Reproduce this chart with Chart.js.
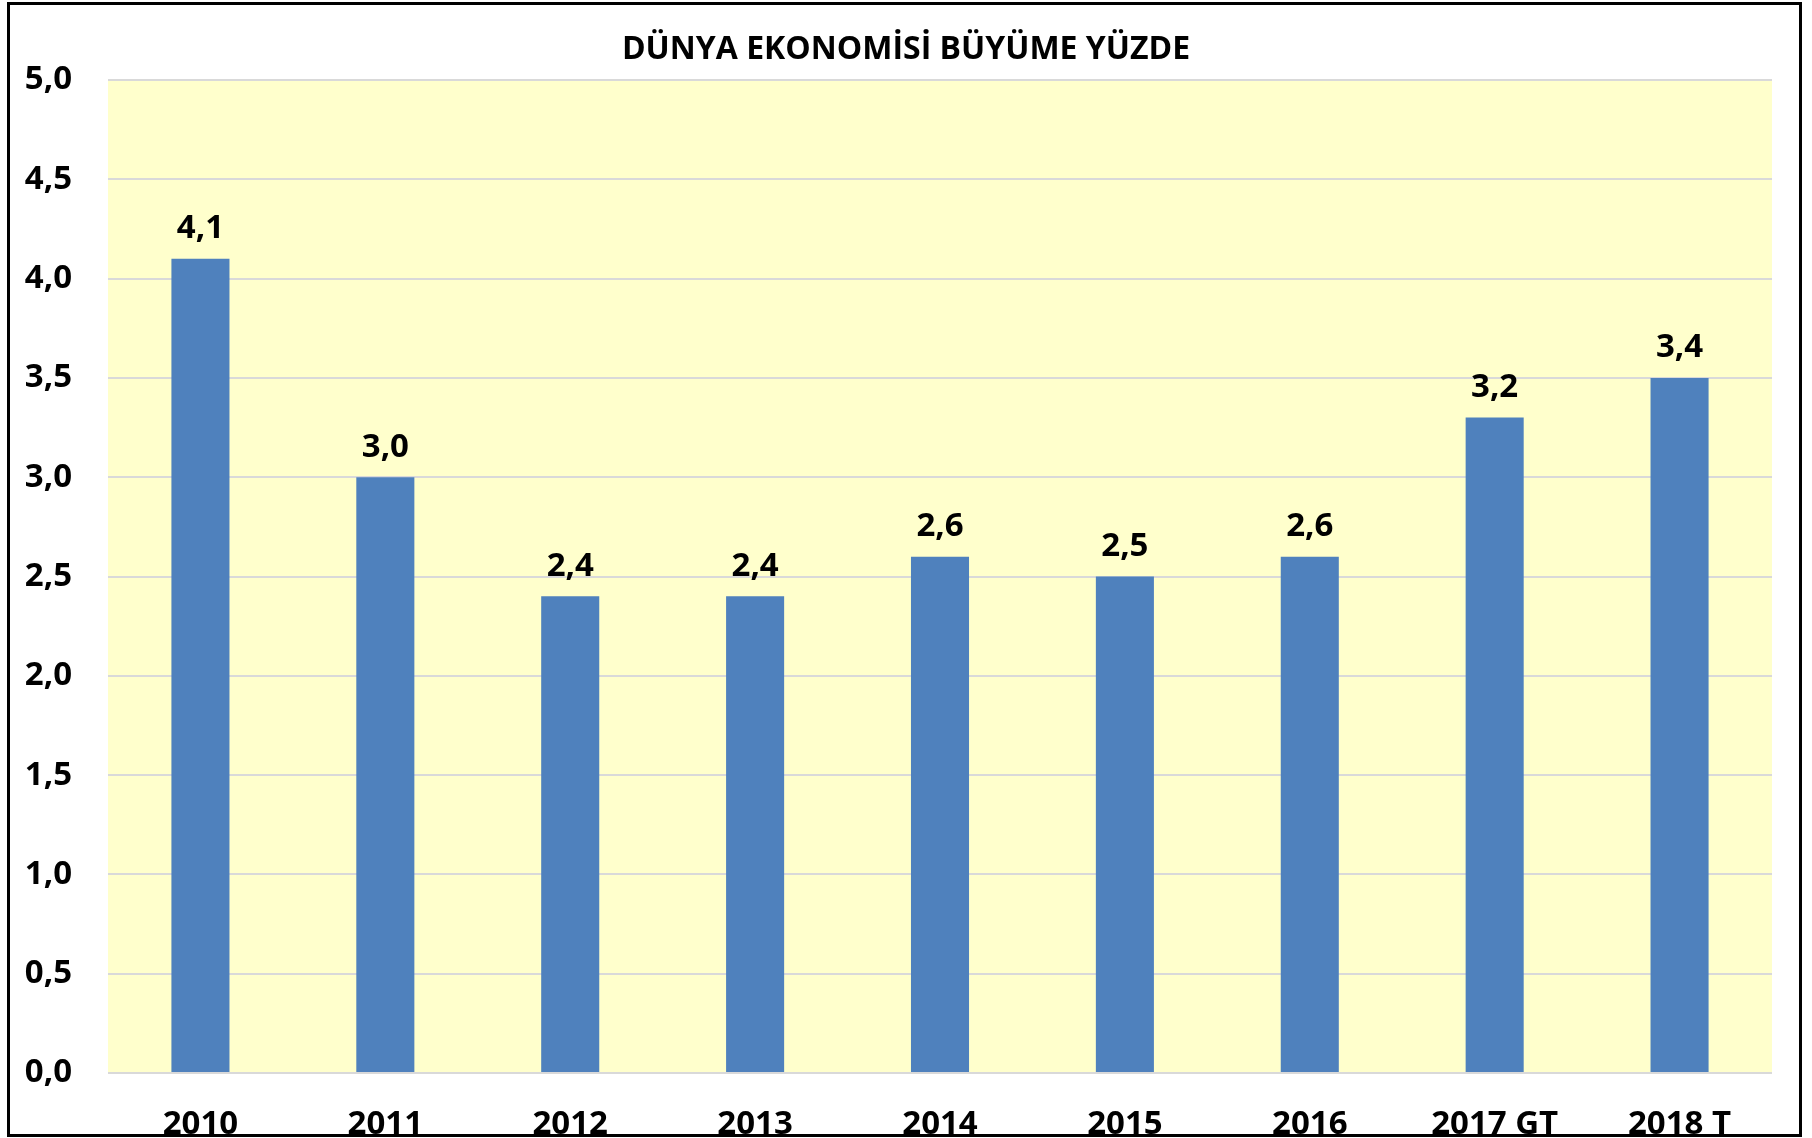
<!DOCTYPE html>
<html>
<head>
<meta charset="utf-8">
<script src="https://cdn.jsdelivr.net/npm/chart.js@4/dist/chart.umd.min.js"></script>
<style>
  html, body { margin: 0; padding: 0; background: #fff; }
  #wrap { position: relative; width: 1812px; height: 1138px; }
  canvas { display: block; }
</style>
</head>
<body>
<div id="wrap"><canvas id="c" width="1812" height="1138"></canvas></div>
<script>
const categories = ['2010', '2011', '2012', '2013', '2014', '2015', '2016', '2017 GT', '2018 T'];
const barValues = [4.1, 3.0, 2.4, 2.4, 2.6, 2.5, 2.6, 3.3, 3.5];
const labelValues = [4.1, 3.0, 2.4, 2.4, 2.6, 2.5, 2.6, 3.2, 3.4];
const titleText = 'DÜNYA EKONOMİSİ BÜYÜME YÜZDE';

const FONT = "'Open Sans', 'DejaVu Sans', sans-serif";
const fmt = v => Number(v).toFixed(1).replace('.', ',');

const plotBg = {
  id: 'plotBg',
  beforeDraw(chart) {
    const { ctx, chartArea: a } = chart;
    ctx.save();
    ctx.fillStyle = '#FFFFCC';
    ctx.fillRect(a.left, a.top, a.right - a.left, a.bottom - a.top);
    ctx.restore();
  }
};

const valueLabels = {
  id: 'valueLabels',
  afterDatasetsDraw(chart) {
    const { ctx } = chart;
    const meta = chart.getDatasetMeta(0);
    ctx.save();
    ctx.fillStyle = '#000';
    ctx.font = 'bold 33px ' + FONT;
    ctx.textAlign = 'center';
    ctx.textBaseline = 'middle';
    meta.data.forEach((bar, i) => {
      ctx.fillText(fmt(labelValues[i]), bar.x, bar.y - 30);
    });
    ctx.restore();
  }
};

const frame = {
  id: 'frame',
  afterDraw(chart) {
    const { ctx } = chart;
    ctx.save();
    ctx.strokeStyle = '#000';
    ctx.lineWidth = 3;
    ctx.strokeRect(8.5, 3.5, 1792, 1132);
    ctx.restore();
  }
};

new Chart(document.getElementById('c'), {
  type: 'bar',
  data: {
    labels: categories,
    datasets: [{
      data: barValues,
      backgroundColor: '#4F81BD',
      borderWidth: 0,
      barPercentage: 0.314,
      categoryPercentage: 1.0
    }]
  },
  options: {
    responsive: false,
    animation: false,
    layout: { padding: 0 },
    plugins: {
      legend: { display: false },
      tooltip: { enabled: false },
      title: {
        display: true,
        text: titleText,
        color: '#000',
        font: { family: FONT, size: 32, weight: 'bold', lineHeight: 1.2 },
        padding: { top: 31, bottom: 10.6 }
      }
    },
    scales: {
      x: {
        grid: { display: false, drawTicks: false },
        border: { display: false },
        ticks: {
          color: '#000',
          font: { family: FONT, size: 33, weight: 'bold' },
          padding: 32,
          maxRotation: 0,
          autoSkip: false
        },
        afterFit(scale) { scale.height = 65; }
      },
      y: {
        min: 0,
        max: 5,
        grid: { color: '#D9D9D9', lineWidth: 2, drawTicks: false },
        border: { display: false },
        ticks: {
          stepSize: 0.5,
          color: '#000',
          font: { family: FONT, size: 33, weight: 'bold' },
          padding: 36,
          callback: v => fmt(v)
        },
        afterFit(scale) { scale.width = 108; }
      },
      yRightSpace: {
        position: 'right',
        min: 0,
        max: 5,
        grid: { display: false, drawTicks: false },
        border: { display: false },
        ticks: { display: false },
        afterFit(scale) { scale.width = 40; }
      }
    }
  },
  plugins: [plotBg, valueLabels, frame]
});
</script>
</body>
</html>
